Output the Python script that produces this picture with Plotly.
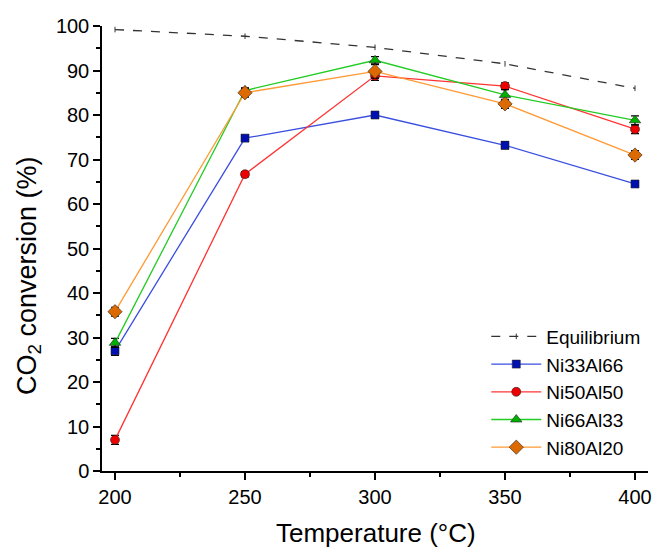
import plotly.graph_objects as go

temps = [200, 250, 300, 350, 400]
equilibrium = [99.2, 97.7, 95.2, 91.5, 86.0]
ni33 = [27.0, 74.8, 80.0, 73.2, 64.5]
ni50 = [7.0, 66.7, 88.8, 86.5, 76.8]
ni66 = [28.8, 85.5, 92.3, 84.5, 78.8]
ni80 = [35.8, 85.0, 89.8, 82.5, 71.0]
err33 = [1.0, 0.6, 0.5, 0.8, 0.6]
err50 = [1.0, 0.6, 1.0, 0.7, 1.0]
err66 = [1.0, 0.6, 0.8, 1.2, 1.0]
err80 = [1.0, 1.0, 1.5, 1.0, 1.0]

FONT = "Arial, Liberation Sans, sans-serif"

fig = go.Figure()
fig.add_trace(go.Scatter(x=temps, y=equilibrium, name="Equilibrium", mode="lines+markers",
                         line=dict(color="#333333", width=1.3, dash="dash"),
                         marker=dict(symbol="line-ns", size=4, color="#333333",
                                     line=dict(color="#333333", width=1))))

series = [
    ("Ni33Al66", ni33, err33, "#3a4fe0", "#0010b0", "square", 8),
    ("Ni50Al50", ni50, err50, "#ff3333", "#ee0000", "circle", 9),
    ("Ni66Al33", ni66, err66, "#22cc22", "#00b000", "triangle-up", 10),
    ("Ni80Al20", ni80, err80, "#ff9933", "#dd6a00", "diamond", 11),
]
for name, ys, es, lc, mc, sym, sz in series:
    fig.add_trace(go.Scatter(
        x=temps, y=ys, name=name, mode="lines+markers",
        line=dict(color=lc, width=1.3),
        marker=dict(symbol=sym, size=sz, color=mc, line=dict(color="#222222", width=0.6)),
        error_y=dict(type="data", array=es, visible=True, color="black", thickness=1.2, width=4),
    ))

axis_common = dict(
    showgrid=False, zeroline=False, showline=True, linecolor="black", linewidth=1.5,
    ticks="outside", ticklen=7, tickwidth=1.5, tickcolor="black",
    tickfont=dict(family=FONT, size=20, color="black"),
    mirror=False, automargin=False,
)
fig.update_xaxes(range=[195, 405], tickvals=[200, 250, 300, 350, 400],
                 minor=dict(ticks="outside", ticklen=4, tickwidth=1.5, tickcolor="black", dtick=25, tick0=200),
                 **axis_common)
fig.update_yaxes(range=[0, 100], dtick=10, tick0=0,
                 minor=dict(ticks="outside", ticklen=4, tickwidth=1.5, tickcolor="black", dtick=5, tick0=0),
                 **axis_common)

fig.add_annotation(text="CO<sub>2</sub> conversion (%)", textangle=-90,
                   xref="paper", yref="paper", x=-0.134, y=0.44,
                   xanchor="center", yanchor="middle", showarrow=False,
                   font=dict(family=FONT, size=27, color="black"))
fig.add_annotation(text="Temperature (°C)",
                   xref="paper", yref="paper", x=0.502, y=-0.139,
                   xanchor="center", yanchor="middle", showarrow=False,
                   font=dict(family=FONT, size=26, color="black"))

fig.update_layout(
    width=654, height=549,
    margin=dict(l=102, r=6, t=26, b=78),
    plot_bgcolor="white", paper_bgcolor="white",
    legend=dict(x=0.995, y=0.01, xanchor="right", yanchor="bottom",
                font=dict(family=FONT, size=19, color="black"),
                bgcolor="rgba(0,0,0,0)", tracegroupgap=0, itemwidth=50),
    showlegend=True,
)
fig.write_html("out.html")
